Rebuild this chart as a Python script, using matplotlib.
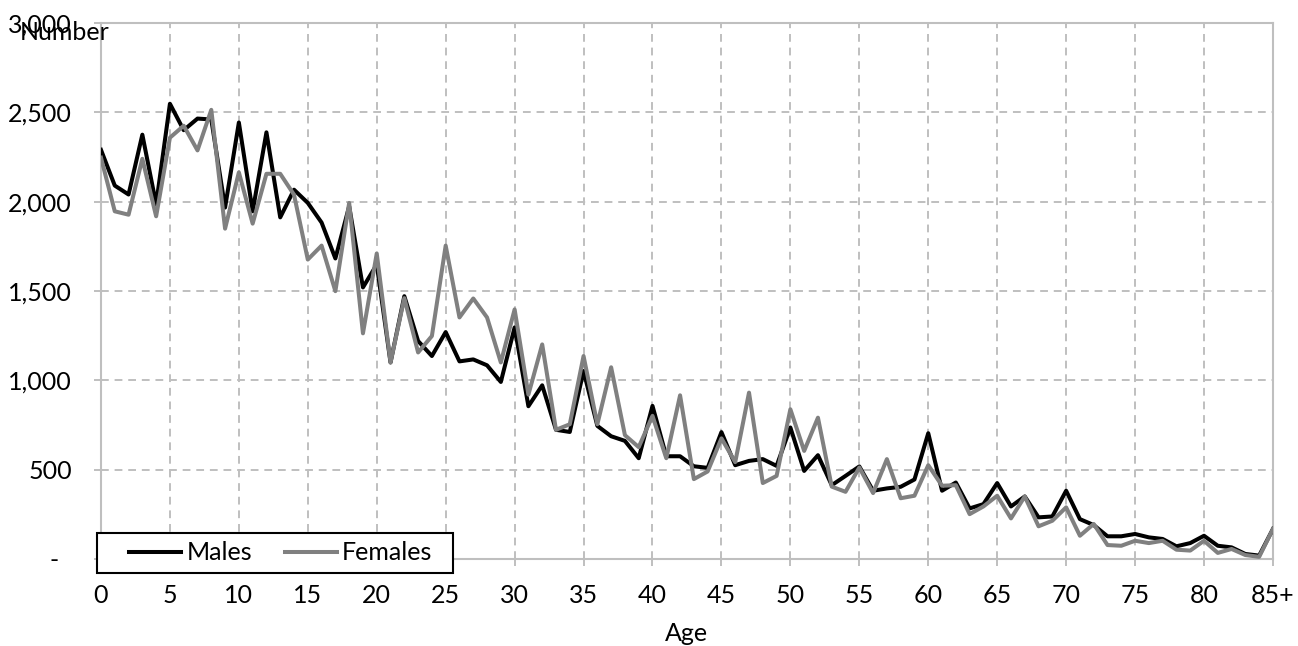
import matplotlib.pyplot as plt
from matplotlib.patches import Rectangle
from matplotlib.ticker import FuncFormatter

plt.rcParams['font.family'] = ['Lato', 'DejaVu Sans']

ages = list(range(86))
xtick_pos = list(range(0, 86, 5))
xtick_labels = [str(a) for a in range(0, 85, 5)] + ['85+']

males = [2290, 2090, 2040, 2375, 1985, 2548, 2400, 2465, 2460, 1967,
         2443, 1946, 2388, 1912, 2067, 1993, 1883, 1682, 1974, 1520,
         1648, 1100, 1471, 1220, 1136, 1270, 1106, 1117, 1084, 991,
         1296, 855, 972, 723, 711, 1052, 745, 687, 661, 564,
         857, 575, 575, 519, 510, 710, 525, 549, 559, 521,
         736, 493, 581, 413, 465, 518, 382, 395, 404, 445,
         704, 382, 428, 283, 307, 425, 294, 350, 233, 238,
         382, 223, 190, 127, 127, 140, 121, 112, 71, 89,
         130, 74, 65, 28, 19, 168]

females = [2246, 1946, 1927, 2240, 1918, 2358, 2425, 2287, 2514, 1849,
           2164, 1877, 2156, 2156, 2039, 1676, 1754, 1499, 1993, 1263,
           1710, 1100, 1460, 1156, 1248, 1754, 1352, 1458, 1352, 1100,
           1397, 920, 1201, 723, 754, 1136, 754, 1073, 693, 626,
           801, 564, 916, 447, 490, 675, 542, 931, 425, 465,
           838, 605, 791, 405, 376, 512, 369, 559, 340, 354,
           525, 410, 413, 251, 294, 354, 227, 350, 183, 214,
           289, 130, 196, 78, 74, 102, 89, 102, 52, 47,
           102, 34, 56, 22, 12, 168]

grid_col = '#BFBFBF'
fs = 18

fig = plt.figure(figsize=(12.98, 6.46), dpi=100)
ax = fig.add_axes([0.0778, 0.1347, 0.9029, 0.8297])

ax.plot(ages, males, color='black', lw=2.9, label='Males', zorder=3)
ax.plot(ages, females, color='#808080', lw=2.9, label='Females', zorder=4)

ax.set_xlim(0, 85)
ax.set_ylim(0, 3000)
ax.set_xticks(xtick_pos)
ax.set_xticklabels(xtick_labels)
ax.set_yticks(range(0, 3001, 500))
# accounting-style zero shown as a dash
ax.yaxis.set_major_formatter(FuncFormatter(lambda v, p: '-  ' if v == 0 else f'{v:,.0f}'))

ax.grid(True, color=grid_col, lw=1.4, linestyle=(0, (4, 3)))
ax.set_axisbelow(True)
for s in ax.spines.values():
    s.set_color(grid_col)
    s.set_linewidth(1.5)

ax.tick_params(axis='y', length=5, width=1.4, color=grid_col, pad=16, labelsize=fs)
ax.tick_params(axis='x', length=5, width=1.4, color=grid_col, pad=13, labelsize=fs)

ax.set_xlabel('Age', fontsize=fs, labelpad=11)
fig.text(0.0155, 0.950, 'Number', fontsize=fs, va='center', ha='left')

# legend box sitting across the bottom axis line
box = Rectangle((-0.0034, -0.026), 0.3037, 0.0745, transform=ax.transAxes,
                facecolor='white', edgecolor='black', lw=1.5, clip_on=False, zorder=5)
ax.add_patch(box)
leg = ax.legend(loc='center left', bbox_to_anchor=(0.0239, 0.0112), ncol=2,
                fontsize=fs, frameon=False, borderaxespad=0, borderpad=0,
                handlelength=2.1, handletextpad=0.2, columnspacing=1.3)
leg.set_zorder(6)

fig.savefig('out.png', dpi=100)
